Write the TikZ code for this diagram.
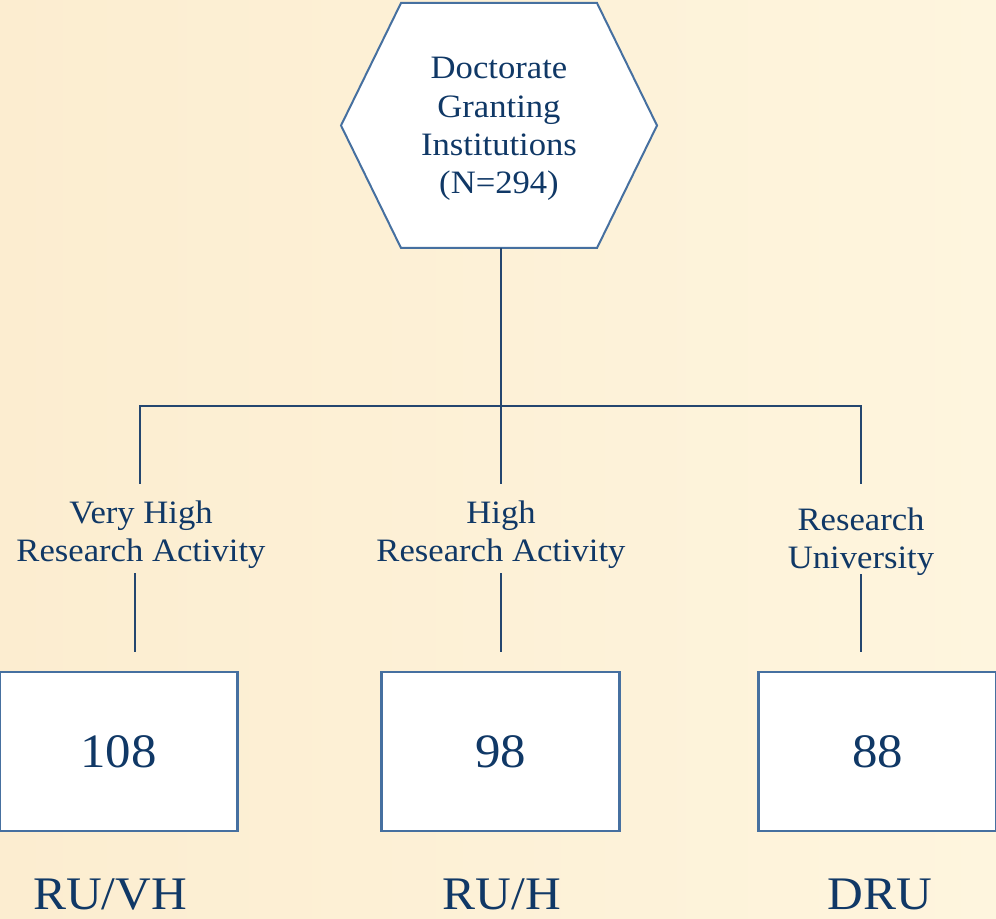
\documentclass[tikz,border=0pt]{standalone}
\usepackage{fontspec}
\setmainfont[FakeStretch=1.06]{Liberation Serif}
\definecolor{bgcream}{HTML}{FEF5DE}
\definecolor{bgedge}{HTML}{FCEDD0}
\definecolor{navytext}{HTML}{103866}
\definecolor{boxblue}{HTML}{4670A0}
\definecolor{linenavy}{HTML}{24466F}
\tikzset{
  hexshape/.style={draw=boxblue, line width=1.5pt, fill=white, line join=miter},
  numbox/.style={draw=boxblue, line width=1.6pt, fill=white, minimum width=178.5pt, minimum height=119.25pt, inner sep=0pt, text=navytext, font=\fontsize{36}{40}\selectfont},
  conn/.style={draw=linenavy, line width=1.1pt},
  toptext/.style={text=navytext, align=center, font=\fontsize{24.5}{28.7}\selectfont, inner sep=0pt},
  lbl/.style={text=navytext, align=center, font=\fontsize{24.5}{28.5}\selectfont, inner sep=0pt},
  code/.style={text=navytext, anchor=base, font=\fontsize{35}{40}\selectfont, inner sep=0pt}
}
\begin{document}
\begin{tikzpicture}[x=0.75pt,y=-0.75pt]
\useasboundingbox (0,0) rectangle (996,919);
\shade[left color=bgedge, right color=bgcream] (0,0) rectangle (996,919);
% hexagon
\filldraw[hexshape] (401,3) -- (597,3) -- (657,125.5) -- (597,248) -- (401,248) -- (341,125.5) -- cycle;
\node[toptext] (root) at (499,129) {Doctorate\\Granting\\Institutions\\(N=294)};
\coordinate (hexb) at (501,248);
% junction coordinates
\coordinate (j) at (501,406);
\coordinate (a1) at (140,484);
\coordinate (a2) at (501,484);
\coordinate (a3) at (861,484);
\draw[conn] (hexb) -- (a2);
\draw[conn] (a1) -- (a1 |- j) -- (a3 |- j) -- (a3);
% labels
\node[lbl] (l1) at (141,535) {Very High\\Research Activity};
\node[lbl] (l2) at (501,535) {High\\Research Activity};
\node[lbl] (l3) at (861,542) {Research\\University};
% lower connectors
\coordinate (b1t) at (135,573);
\coordinate (b1b) at (135,652);
\coordinate (b2t) at (501,573);
\coordinate (b2b) at (501,652);
\coordinate (b3t) at (861,574);
\coordinate (b3b) at (861,652);
\draw[conn] (b1t) -- (b1b);
\draw[conn] (b2t) -- (b2b);
\draw[conn] (b3t) -- (b3b);
% boxes
\node[numbox] (n1) at (118.5,751.5) {108};
\node[numbox] (n2) at (500.5,751.5) {98};
\node[numbox] (n3) at (877.5,751.5) {88};
% codes
\node[code] (c1) at (110,909) {RU/VH};
\node[code] (c2) at (502,909) {RU/H};
\node[code] (c3) at (880,909) {DRU};
\end{tikzpicture}
\end{document}
